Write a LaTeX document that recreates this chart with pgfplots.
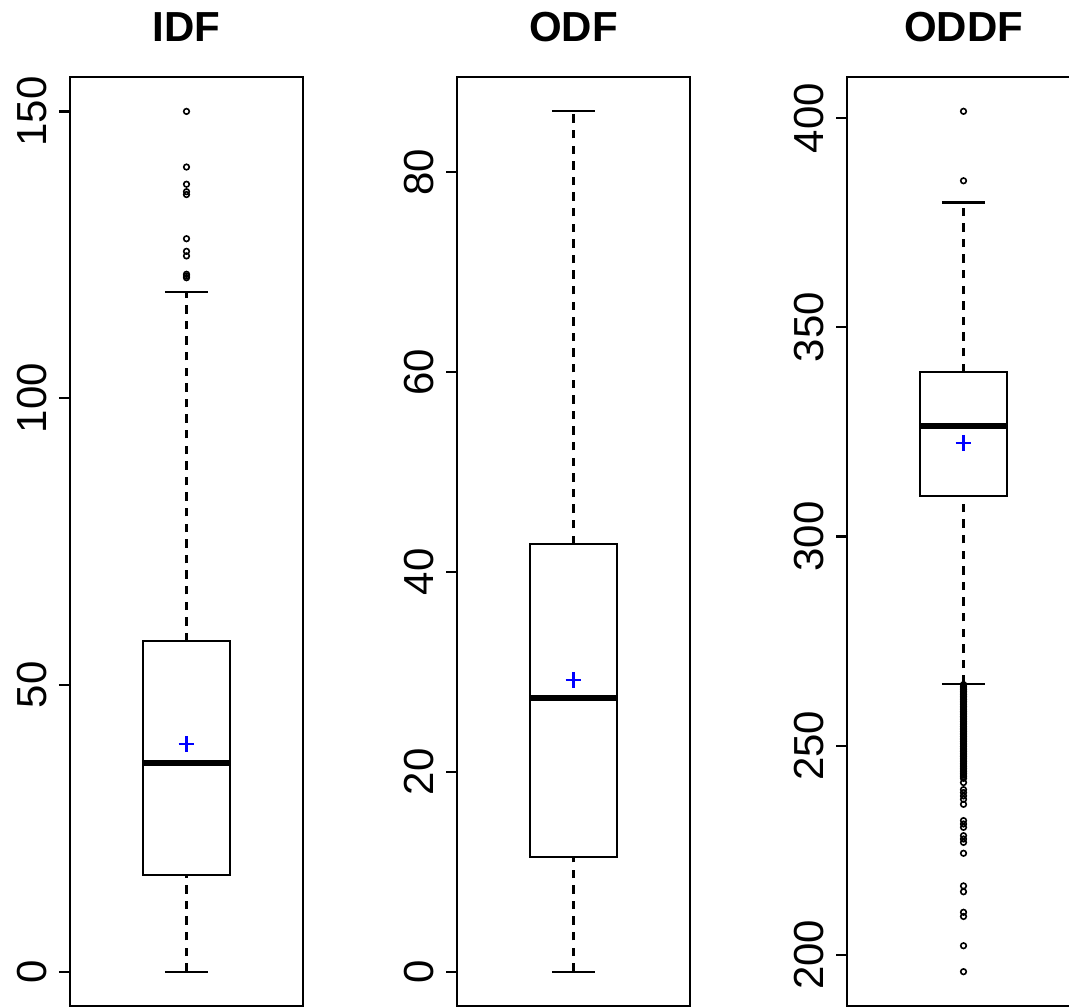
\documentclass[border=0pt]{standalone}
\usepackage{fontspec}
\setmainfont{Liberation Sans}
\usepackage{pgfplots}
\pgfplotsset{compat=1.18}
\pgfplotsset{
 rbox/.style={
  scale only axis, width=116.5pt, height=464.5pt, anchor=south west,
  xmin=0.46, xmax=1.54, xtick=\empty,
  axis line style={line width=1.1pt},
  ytick pos=left, tick align=outside, major tick length=5.5pt,
  tick style={line width=1.1pt, black},
  /pgf/number format/assume math mode=true,
  yticklabel style={font=\fontsize{21}{21}\selectfont, inner sep=0pt, xshift=-6pt, rotate=90, anchor=south},
  title style={at={(0.5,1)}, anchor=base, yshift=11.8pt, inner sep=0pt, font=\bfseries\fontsize{21}{21}\selectfont},
  clip=false,
 },
 boxln/.style={black, line width=1.1pt},
 med/.style={black, line width=3pt},
 cap/.style={black, line width=1.1pt},
 whisk/.style={black, line width=1.1pt, dash pattern=on 4.2pt off 3.6pt},
 outl/.style={only marks, mark=o, mark size=1.4pt, mark options={black, line width=0.8pt, solid}},
 meanmk/.style={only marks, mark=+, mark size=3.9pt, mark options={blue, line width=1.1pt}},
}
\begin{document}
\begin{tikzpicture}
% IDF
\begin{axis}[rbox, at={(35pt,0.5pt)}, ymin=-6, ymax=156, ytick={0,50,100,150}, title={IDF}]
\addplot[whisk] coordinates {(1,0) (1,16.9)};
\addplot[whisk] coordinates {(1,57.6) (1,118.5)};
\addplot[cap] coordinates {(0.9,0) (1.1,0)};
\addplot[cap] coordinates {(0.9,118.5) (1.1,118.5)};
\addplot[boxln] coordinates {(0.8,16.9) (1.2,16.9) (1.2,57.6) (0.8,57.6)} -- cycle;
\addplot[med] coordinates {(0.8,36.4) (1.2,36.4)};
\addplot[outl] coordinates {(1,150) (1,140.3) (1,137.3) (1,136.0) (1,135.5) (1,127.8) (1,125.6) (1,124.8) (1,121.6) (1,121.3) (1,121.0)};
\addplot[meanmk] coordinates {(1,39.7)};
\end{axis}
% ODF
\begin{axis}[rbox, at={(228.5pt,0.5pt)}, ymin=-3.44, ymax=89.54, ytick={0,20,40,60,80}, title={ODF}]
\addplot[whisk] coordinates {(1,0) (1,11.5)};
\addplot[whisk] coordinates {(1,42.8) (1,86.1)};
\addplot[cap] coordinates {(0.9,0) (1.1,0)};
\addplot[cap] coordinates {(0.9,86.1) (1.1,86.1)};
\addplot[boxln] coordinates {(0.8,11.5) (1.2,11.5) (1.2,42.8) (0.8,42.8)} -- cycle;
\addplot[med] coordinates {(0.8,27.4) (1.2,27.4)};
\addplot[meanmk] coordinates {(1,29.2)};
\end{axis}
% ODDF
\begin{axis}[rbox, at={(423.5pt,0.5pt)}, ymin=187.8, ymax=409.8, ytick={200,250,300,350,400}, title={ODDF}]
\addplot[whisk] coordinates {(1,264.8) (1,309.6)};
\addplot[whisk] coordinates {(1,339.3) (1,379.8)};
\addplot[cap] coordinates {(0.9,264.8) (1.1,264.8)};
\addplot[cap] coordinates {(0.9,379.8) (1.1,379.8)};
\addplot[boxln] coordinates {(0.8,309.6) (1.2,309.6) (1.2,339.3) (0.8,339.3)} -- cycle;
\addplot[med] coordinates {(0.8,326.3) (1.2,326.3)};
\addplot[outl] coordinates {(1,401.6) (1,385.0)
(1,264.6) (1,264.2) (1,263.8) (1,263.4) (1,263.0) (1,262.6) (1,262.2) (1,261.8) (1,261.4) (1,261.0)
(1,260.6) (1,260.2) (1,259.8) (1,259.4) (1,259.0) (1,258.6) (1,258.2) (1,257.8) (1,257.4) (1,257.0)
(1,256.6) (1,256.2) (1,255.8) (1,255.4) (1,255.0) (1,254.6) (1,254.2) (1,253.8) (1,253.4) (1,253.0)
(1,252.6) (1,252.2) (1,251.8) (1,251.4) (1,251.0) (1,250.6) (1,250.2) (1,249.8) (1,249.4) (1,249.0)
(1,248.6) (1,248.2) (1,247.8) (1,247.4) (1,247.0) (1,246.6) (1,246.2) (1,245.8) (1,245.4) (1,245.0)
(1,244.6) (1,244.2) (1,243.8) (1,243.4) (1,243.0) (1,242.6) (1,242.2)
(1,241.2) (1,239.5) (1,238.8) (1,238.0) (1,237.2) (1,236.0) (1,232.1) (1,231.3) (1,230.5)
(1,228.5) (1,227.7) (1,226.9) (1,224.3) (1,216.5) (1,215.1) (1,210.2) (1,209.2) (1,202.2) (1,196.0)};
\addplot[meanmk] coordinates {(1,322.4)};
\end{axis}
\pgfresetboundingbox
\useasboundingbox (0,0) rectangle (534.5pt,503.5pt);
\end{tikzpicture}
\end{document}
